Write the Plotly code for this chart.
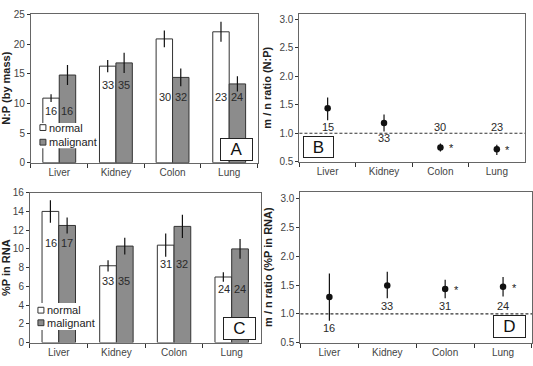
import plotly.graph_objects as go

W, H = 533, 366
organs = ["Liver", "Kidney", "Colon", "Lung"]

# Panel A: N:P (by mass)
np_normal = [10.9, 16.3, 20.9, 22.1]
np_normal_err = [0.65, 1.05, 1.4, 1.7]
np_malig = [14.8, 16.85, 14.4, 13.3]
np_malig_err = [1.7, 1.7, 1.5, 1.3]
np_n_normal = [16, 33, 30, 23]
np_n_malig = [16, 35, 32, 24]
np_label_y = [8.7, 13.1, 11.1, 11.1]

# Panel B: m/n ratio (N:P)
np_ratio = [1.44, 1.18, 0.75, 0.72]
np_ratio_lo = [1.23, 1.03, 0.68, 0.62]
np_ratio_hi = [1.63, 1.33, 0.82, 0.80]
np_ratio_n = [15, 33, 30, 23]
np_ratio_label_y = [1.11, 0.91, 1.11, 1.11]
np_ratio_sig = [False, False, True, True]

# Panel C: %P in RNA
rna_normal = [14.0, 8.2, 10.4, 7.0]
rna_normal_err = [1.2, 0.6, 1.25, 0.5]
rna_malig = [12.5, 10.3, 12.4, 10.0]
rna_malig_err = [0.85, 0.9, 1.25, 1.05]
rna_n_normal = [16, 33, 31, 24]
rna_n_malig = [17, 35, 32, 24]
rna_label_y = [10.6, 6.6, 8.4, 5.7]

# Panel D: m/n ratio (%P in RNA)
rna_ratio = [1.29, 1.49, 1.43, 1.47]
rna_ratio_lo = [0.88, 1.27, 1.27, 1.30]
rna_ratio_hi = [1.70, 1.73, 1.59, 1.64]
rna_ratio_n = [16, 33, 31, 24]
rna_ratio_label_y = [0.75, 1.13, 1.13, 1.13]
rna_ratio_sig = [False, False, True, True]

FONT = "Liberation Sans, Arial, sans-serif"
NORMAL_C = "#ffffff"
MALIG_C = "#8c8c8c"
EDGE_C = "#333333"
FRAME_C = "#666666"
TICK_FONT = dict(family=FONT, size=10, color="#444444")
LABEL_FONT = dict(family=FONT, size=11, color="#2a2a2a")


def px(x):
    return x / W


def py(y):
    return 1 - y / H


fig = go.Figure()

# bar panels
bar_panels = [
    ("x", "y", np_normal, np_normal_err, np_malig, np_malig_err, np_n_normal, np_n_malig, np_label_y),
    ("x3", "y3", rna_normal, rna_normal_err, rna_malig, rna_malig_err, rna_n_normal, rna_n_malig, rna_label_y),
]
for xa, ya, nv, ne, mv, me, nn, nm, ly in bar_panels:
    fig.add_trace(go.Bar(x=organs, y=nv, xaxis=xa, yaxis=ya, name="normal",
                         marker=dict(color=NORMAL_C, line=dict(color=EDGE_C, width=1)),
                         error_y=dict(type="data", array=ne, color="#111", thickness=1.2, width=0),
                         showlegend=False))
    fig.add_trace(go.Bar(x=organs, y=mv, xaxis=xa, yaxis=ya, name="malignant",
                         marker=dict(color=MALIG_C, line=dict(color=EDGE_C, width=1)),
                         error_y=dict(type="data", array=me, color="#111", thickness=1.2, width=0),
                         showlegend=False))
    for o, a, b, yy in zip(organs, nn, nm, ly):
        fig.add_annotation(x=o, y=yy, xref=xa, yref=ya, text=str(a), showarrow=False,
                           xshift=-8, font=LABEL_FONT)
        fig.add_annotation(x=o, y=yy, xref=xa, yref=ya, text=str(b), showarrow=False,
                           xshift=8, font=LABEL_FONT)

# ratio panels
ratio_panels = [
    ("x2", "y2", np_ratio, np_ratio_lo, np_ratio_hi, np_ratio_n, np_ratio_label_y, np_ratio_sig),
    ("x4", "y4", rna_ratio, rna_ratio_lo, rna_ratio_hi, rna_ratio_n, rna_ratio_label_y, rna_ratio_sig),
]
for xa, ya, v, lo, hi, n, ly, sig in ratio_panels:
    fig.add_shape(type="line", xref=xa + " domain", yref=ya, x0=0, x1=1, y0=1.0, y1=1.0,
                  line=dict(color="#333", width=1.2, dash="3px,2px"))
    fig.add_trace(go.Scatter(x=organs, y=v, xaxis=xa, yaxis=ya, mode="markers",
                             marker=dict(color="#111", size=6.5),
                             error_y=dict(type="data", symmetric=False,
                                          array=[h - m for h, m in zip(hi, v)],
                                          arrayminus=[m - l for m, l in zip(v, lo)],
                                          color="#111", thickness=1.2, width=0),
                             showlegend=False))
    for o, nn, yy, s, val in zip(organs, n, ly, sig, v):
        fig.add_annotation(x=o, y=yy, xref=xa, yref=ya, text=str(nn), showarrow=False,
                           font=LABEL_FONT)
        if s:
            fig.add_annotation(x=o, y=val, xref=xa, yref=ya, text="*", showarrow=False,
                               xshift=11, yshift=-1, font=dict(family=FONT, size=11, color="#222"))

# domains (pixels)
dom = {
    "": ((30, 257), (8, 162), [0, 25.15], 5, None, "N:P (by mass)"),
    "2": ((299, 525), (8, 161), [0.5, 3.1], 0.5, ".1f", "m / n ratio (N:P)"),
    "3": ((29, 260), (193, 348), [0, 16], 2, None, "%P in RNA"),
    "4": ((300, 532), (192, 348), [0.5, 3.12], 0.5, ".1f", "m / n ratio (%P in RNA)"),
}
layout = {}
for k, ((x0, x1), (y0, y1), yr, dt, fmt, title) in dom.items():
    xa = "xaxis" + k
    yaxn = "yaxis" + k
    layout[xa] = dict(domain=[px(x0), px(x1)], anchor="y" + k, type="category",
                      categoryorder="array", categoryarray=organs,
                      tickson="boundaries", ticks="outside", ticklen=4, tickcolor="#333",
                      showline=True, linecolor=FRAME_C, linewidth=1, mirror=True,
                      showgrid=False, tickfont=TICK_FONT, range=[-0.5, 3.5])
    yd = dict(domain=[py(y1), py(y0)], anchor="x" + k, range=yr, dtick=dt, tick0=0 if dt != 0.5 else 0.5,
              ticks="outside", ticklen=3, tickcolor="#333",
              showline=True, linecolor=FRAME_C, linewidth=1, mirror=True,
              showgrid=False, zeroline=False, tickfont=TICK_FONT,
              title=dict(text="<b>" + title + "</b>", font=dict(family=FONT, size=11, color="#222"), standoff=5))
    if fmt:
        yd["tickformat"] = fmt
    layout[yaxn] = yd

fig.update_layout(**layout)

# manual legends (white backed)
legends = [
    ((37, 92), (121, 147), 125.7, 140.8, 39),
    ((35, 90), (307, 335), 314.5, 327.5, 37),
]
for (lx0, lx1), (ly0, ly1), yn, ym, mx in legends:
    fig.add_shape(type="rect", xref="paper", yref="paper", x0=px(lx0), x1=px(lx1),
                  y0=py(ly1), y1=py(ly0), fillcolor="white", line=dict(width=0), layer="above")
    for yc, col, lab in [(yn, NORMAL_C, "normal"), (ym, MALIG_C, "malignant")]:
        fig.add_shape(type="rect", xref="paper", yref="paper", x0=px(mx), x1=px(mx + 6),
                      y0=py(yc + 3), y1=py(yc - 3), fillcolor=col,
                      line=dict(color=EDGE_C, width=1), layer="above")
        fig.add_annotation(xref="paper", yref="paper", x=px(mx + 7), y=py(yc), text=lab,
                           showarrow=False, xanchor="left", yanchor="middle",
                           font=dict(family=FONT, size=11, color="#222"))

# panel letters
letters = [("A", 219, 252, 137, 160), ("B", 303, 334, 135, 157),
           ("C", 222, 255, 322, 345), ("D", 493, 526, 320, 343)]
for t, x0, x1, y0, y1 in letters:
    fig.add_annotation(xref="paper", yref="paper", x=px((x0 + x1) / 2), y=py((y0 + y1) / 2),
                       text=t, showarrow=False, xanchor="center", yanchor="middle",
                       width=x1 - x0 - 2, height=y1 - y0 - 2, bgcolor="white",
                       bordercolor="#222", borderwidth=1, borderpad=0,
                       font=dict(family=FONT, size=17, color="#111"))

fig.update_layout(width=W, height=H, margin=dict(l=0, r=0, t=0, b=0),
                  paper_bgcolor="white", plot_bgcolor="white",
                  barmode="group", bargap=0.42, bargroupgap=0.0,
                  font=dict(family=FONT))

fig.write_html("out.html")
